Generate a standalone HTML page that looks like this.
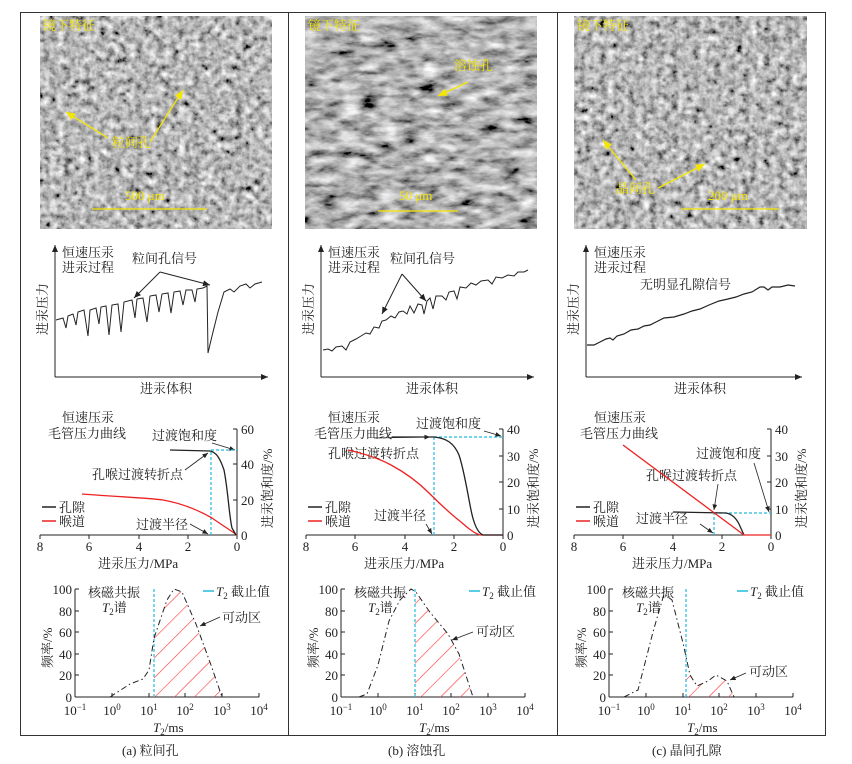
<!DOCTYPE html>
<html><head><meta charset="utf-8"><style>
body{margin:0;background:#fff}
svg{display:block}
text{font-family:"Liberation Serif","Noto Serif CJK SC","Noto Sans CJK SC",serif;fill:#222}
.t13{font-size:13px}
.t12{font-size:13px}
.y{fill:#f5e600;font-size:13px}
</style></head><body>
<svg width="852" height="764" viewBox="0 0 852 764" xmlns="http://www.w3.org/2000/svg">
<defs>
<filter id="n1" x="0" y="0" width="100%" height="100%">
<feTurbulence type="fractalNoise" baseFrequency="0.14" numOctaves="4" seed="3"/>
<feColorMatrix type="matrix" values="0.33 0.33 0.33 0 0  0.33 0.33 0.33 0 0  0.33 0.33 0.33 0 0  0 0 0 0 1"/>
<feComponentTransfer><feFuncR type="linear" slope="2.2" intercept="-0.62"/><feFuncG type="linear" slope="2.2" intercept="-0.62"/><feFuncB type="linear" slope="2.2" intercept="-0.62"/></feComponentTransfer>
</filter>
<filter id="n2" x="0" y="0" width="100%" height="100%">
<feTurbulence type="fractalNoise" baseFrequency="0.05 0.12" numOctaves="4" seed="7"/>
<feColorMatrix type="matrix" values="0.33 0.33 0.33 0 0  0.33 0.33 0.33 0 0  0.33 0.33 0.33 0 0  0 0 0 0 1"/>
<feComponentTransfer><feFuncR type="linear" slope="2.3" intercept="-0.7"/><feFuncG type="linear" slope="2.3" intercept="-0.7"/><feFuncB type="linear" slope="2.3" intercept="-0.7"/></feComponentTransfer>
</filter>
<pattern id="hatch" width="14" height="14" patternUnits="userSpaceOnUse" patternTransform="rotate(45)">
<line x1="0" y1="0" x2="0" y2="14" stroke="#f33" stroke-width="1.2"/>
</pattern>
<marker id="ar" markerWidth="8" markerHeight="8" refX="7" refY="4" orient="auto"><path d="M0,1 L7,4 L0,7 z" fill="#222"/></marker>
<marker id="ay" markerWidth="8" markerHeight="8" refX="7" refY="4" orient="auto"><path d="M0,1 L7,4 L0,7 z" fill="#f5e600"/></marker>
<clipPath id="ca"><polygon points="154,697 154,638 167,600 174,589 182,592 196,624 211,665 222,697"/></clipPath>
<clipPath id="cb"><polygon points="149,697 149,591 150,592 163,611 182,634 193,654 207,697"/></clipPath>
<clipPath id="cc"><polygon points="152,697 152,665 156,675 163,686 174,681 182,675 193,681 200,697"/></clipPath>
</defs>
<rect x="20.5" y="12.5" width="805" height="723" fill="none" stroke="#333" stroke-width="1"/>
<line x1="288.5" y1="12" x2="288.5" y2="735" stroke="#333"/>
<line x1="557.5" y1="12" x2="557.5" y2="735" stroke="#333"/>

<!-- photos -->
<rect x="40" y="16" width="232" height="213" fill="#888" filter="url(#n1)"/>
<rect x="305" y="16" width="232" height="213" fill="#888" filter="url(#n2)"/>
<rect x="574" y="16" width="233" height="213" fill="#888" filter="url(#n1)"/>
<text x="43" y="30" class="y">镜下特征</text>
<text x="308" y="30" class="y">镜下特征</text>
<text x="577" y="30" class="y">镜下特征</text>
<text x="112" y="147" class="y">粒间孔</text>
<line x1="108" y1="138" x2="66" y2="112" stroke="#f5e600" stroke-width="1.3" marker-end="url(#ay)"/>
<line x1="150" y1="142" x2="183" y2="90" stroke="#f5e600" stroke-width="1.3" marker-end="url(#ay)"/>
<text x="125" y="200" class="y">500 μm</text>
<line x1="92" y1="209" x2="207" y2="209" stroke="#f5e600" stroke-width="1.3"/>
<text x="454" y="70" class="y">溶蚀孔</text>
<line x1="468" y1="82" x2="438" y2="96" stroke="#f5e600" stroke-width="1.3" marker-end="url(#ay)"/>
<text x="399" y="200" class="y">50 μm</text>
<line x1="378" y1="211" x2="458" y2="211" stroke="#f5e600" stroke-width="1.3"/>
<text x="616" y="193" class="y">晶间孔</text>
<line x1="636" y1="180" x2="603" y2="140" stroke="#f5e600" stroke-width="1.3" marker-end="url(#ay)"/>
<line x1="658" y1="188" x2="705" y2="164" stroke="#f5e600" stroke-width="1.3" marker-end="url(#ay)"/>
<text x="708" y="200" class="y">200 μm</text>
<line x1="681" y1="209" x2="779" y2="209" stroke="#f5e600" stroke-width="1.3"/>

<!-- ===== panel a ===== -->
<g>
<line x1="55" y1="377" x2="55" y2="245" stroke="#222" marker-end="url(#ar)"/>
<line x1="55" y1="377" x2="268" y2="377" stroke="#222" marker-end="url(#ar)"/>
<text x="62" y="257" class="t13">恒速压汞</text><text x="62" y="272" class="t13">进汞过程</text>
<text x="132" y="263" class="t13">粒间孔信号</text>
<line x1="160" y1="272" x2="134" y2="298" stroke="#222" marker-end="url(#ar)"/>
<line x1="160" y1="272" x2="210" y2="285" stroke="#222" marker-end="url(#ar)"/>
<text class="t13" transform="translate(47,335) rotate(-90)">进汞压力</text>
<text x="140" y="393" class="t13">进汞体积</text>
<polyline fill="none" stroke="#222" stroke-width="1" points="56,320 63,318 66,328 68,316 73,314 76,325 78,312 84,310 88,336 90,310 96,308 99,324 101,307 106,306 109,335 112,305 118,304 121,332 124,302 132,300 135,318 137,299 143,298 147,322 150,296 156,295 159,312 162,294 168,293 171,313 174,292 180,291 183,305 186,290 192,290 195,302 197,289 203,288 207,286 208,353 212,336 218,312 224,292 230,289 234,292 240,286 246,284 250,288 255,284 262,282"/>
<line x1="40" y1="535" x2="237" y2="535" stroke="#222"/>
<line x1="237" y1="535" x2="237" y2="429" stroke="#222"/>
<g stroke="#222"><line x1="40" y1="535" x2="40" y2="539"/><line x1="89" y1="535" x2="89" y2="539"/><line x1="139" y1="535" x2="139" y2="539"/><line x1="188" y1="535" x2="188" y2="539"/><line x1="237" y1="535" x2="237" y2="539"/>
<line x1="237" y1="429" x2="233" y2="429"/><line x1="237" y1="464" x2="233" y2="464"/><line x1="237" y1="500" x2="233" y2="500"/></g>
<g class="t13" text-anchor="middle"><text x="40" y="551">8</text><text x="89" y="551">6</text><text x="139" y="551">4</text><text x="188" y="551">2</text><text x="237" y="551">0</text></g>
<g class="t13"><text x="241" y="434">60</text><text x="241" y="469">40</text><text x="241" y="505">20</text><text x="241" y="540">0</text></g>
<text class="t13" transform="translate(272,528) rotate(-90)">进汞饱和度/%</text>
<text x="98" y="568" class="t13">进汞压力/MPa</text>
<text x="62" y="422" class="t13">恒速压汞</text><text x="48" y="438" class="t13">毛管压力曲线</text>
<text x="152" y="440" class="t13">过渡饱和度</text>
<line x1="212" y1="443" x2="235" y2="450" stroke="#222" stroke-width="0.8" marker-end="url(#ar)"/>
<text x="92" y="479" class="t13">孔喉过渡转折点</text>
<line x1="185" y1="470" x2="208" y2="453" stroke="#222" stroke-width="0.8" marker-end="url(#ar)"/>
<text x="136" y="529" class="t13">过渡半径</text>
<line x1="190" y1="524" x2="208" y2="534" stroke="#222" stroke-width="0.8" marker-end="url(#ar)"/>
<line x1="42" y1="507" x2="56" y2="507" stroke="#222" stroke-width="1.5"/><text x="59" y="512" class="t13">孔隙</text>
<line x1="42" y1="521" x2="56" y2="521" stroke="#e22" stroke-width="1.5"/><text x="59" y="526" class="t13">喉道</text>
<line x1="211" y1="535" x2="211" y2="450" stroke="#2bd" stroke-width="1.2" stroke-dasharray="3,2"/>
<line x1="211" y1="450" x2="237" y2="450" stroke="#2bd" stroke-width="1.2" stroke-dasharray="3,2"/>
<path d="M82,494 C120,497 150,498 163,500 C180,503 198,510 212,518 C222,525 230,530 237,535" fill="none" stroke="#e22" stroke-width="1.3"/>
<path d="M170,450 L210,451 C216,452 220,458 224,470 C228,490 229,515 232,528 L236,535" fill="none" stroke="#222" stroke-width="1.3"/>
<line x1="75" y1="697" x2="259" y2="697" stroke="#222"/>
<line x1="75" y1="697" x2="75" y2="589" stroke="#222"/>
<g stroke="#222"><line x1="75" y1="589" x2="79" y2="589"/><line x1="75" y1="611" x2="79" y2="611"/><line x1="75" y1="632" x2="79" y2="632"/><line x1="75" y1="654" x2="79" y2="654"/><line x1="75" y1="675" x2="79" y2="675"/>
<line x1="112" y1="697" x2="112" y2="693"/><line x1="149" y1="697" x2="149" y2="693"/><line x1="185" y1="697" x2="185" y2="693"/><line x1="222" y1="697" x2="222" y2="693"/><line x1="259" y1="697" x2="259" y2="693"/></g>
<g class="t13" text-anchor="end"><text x="72" y="594">100</text><text x="72" y="616">80</text><text x="72" y="637">60</text><text x="72" y="659">40</text><text x="72" y="680">20</text><text x="72" y="702">0</text></g>
<g class="t13" text-anchor="middle"><text x="75" y="715">10<tspan font-size="9" dy="-5">−1</tspan></text><text x="112" y="715">10<tspan font-size="9" dy="-5">0</tspan></text><text x="149" y="715">10<tspan font-size="9" dy="-5">1</tspan></text><text x="185" y="715">10<tspan font-size="9" dy="-5">2</tspan></text><text x="222" y="715">10<tspan font-size="9" dy="-5">3</tspan></text><text x="259" y="715">10<tspan font-size="9" dy="-5">4</tspan></text></g>
<text x="153" y="732" class="t13"><tspan font-style="italic">T</tspan><tspan font-size="9" dy="3">2</tspan><tspan dy="-3">/ms</tspan></text>
<text class="t13" transform="translate(52,668) rotate(-90)">频率/%</text>
<text x="88" y="597" class="t13">核磁共振</text><text x="102" y="612" class="t13"><tspan font-style="italic">T</tspan><tspan font-size="9" dy="3">2</tspan><tspan dy="-3">谱</tspan></text>
<line x1="203" y1="591" x2="214" y2="591" stroke="#2bd" stroke-width="1.5"/><text x="216" y="596" class="t13"><tspan font-style="italic">T</tspan><tspan font-size="9" dy="3">2</tspan><tspan dy="-3"> 截止值</tspan></text>
<text x="222" y="622" class="t13">可动区</text>
<line x1="220" y1="617" x2="200" y2="626" stroke="#222" stroke-width="0.8" marker-end="url(#ar)"/>
<rect x="150" y="585" width="80" height="115" fill="url(#hatch)" clip-path="url(#ca)"/>
<line x1="154" y1="697" x2="154" y2="589" stroke="#2bd" stroke-width="1.2" stroke-dasharray="3,2"/>
<polyline fill="none" stroke="#222" stroke-width="1" stroke-dasharray="6,3,1.5,3" points="110,697 130,684 143,679 149,670 154,638 167,600 174,589 182,592 196,624 211,665 222,697"/>
<text x="122" y="755" class="t12">(a) 粒间孔</text>
</g>

<!-- ===== panel b ===== -->
<g transform="translate(266,0)">
<line x1="55" y1="377" x2="55" y2="245" stroke="#222" marker-end="url(#ar)"/>
<line x1="55" y1="377" x2="268" y2="377" stroke="#222" marker-end="url(#ar)"/>
<text x="62" y="257" class="t13">恒速压汞</text><text x="62" y="272" class="t13">进汞过程</text>
<text x="124" y="263" class="t13">粒间孔信号</text>
<line x1="136" y1="274" x2="116" y2="314" stroke="#222" marker-end="url(#ar)"/>
<line x1="136" y1="274" x2="160" y2="301" stroke="#222" marker-end="url(#ar)"/>
<text class="t13" transform="translate(47,335) rotate(-90)">进汞压力</text>
<text x="140" y="393" class="t13">进汞体积</text>
<polyline fill="none" stroke="#222" stroke-width="1" points="57,350 62,349 66,351 70,347 76,346 80,350 84,342 90,339 95,336 100,333 104,334 108,327 113,328 116,321 120,320 125,316 129,318 133,312 137,311 141,314 144,306 148,313 152,304 156,305 158,314 161,301 164,298 167,309 170,296 176,296 180,300 183,292 188,291 191,299 194,287 200,288 205,283 210,285 215,281 222,280 226,284 230,277 236,278 242,275 248,276 252,272 258,272 262,270"/>
<line x1="40" y1="535" x2="237" y2="535" stroke="#222"/>
<line x1="237" y1="535" x2="237" y2="429" stroke="#222"/>
<g stroke="#222"><line x1="40" y1="535" x2="40" y2="539"/><line x1="89" y1="535" x2="89" y2="539"/><line x1="139" y1="535" x2="139" y2="539"/><line x1="188" y1="535" x2="188" y2="539"/><line x1="237" y1="535" x2="237" y2="539"/>
<line x1="237" y1="429" x2="233" y2="429"/><line x1="237" y1="456" x2="233" y2="456"/><line x1="237" y1="482" x2="233" y2="482"/><line x1="237" y1="509" x2="233" y2="509"/></g>
<g class="t13" text-anchor="middle"><text x="40" y="551">8</text><text x="89" y="551">6</text><text x="139" y="551">4</text><text x="188" y="551">2</text><text x="237" y="551">0</text></g>
<g class="t13"><text x="241" y="434">40</text><text x="241" y="461">30</text><text x="241" y="487">20</text><text x="241" y="514">10</text><text x="241" y="540">0</text></g>
<text class="t13" transform="translate(272,528) rotate(-90)">进汞饱和度/%</text>
<text x="98" y="568" class="t13">进汞压力/MPa</text>
<text x="62" y="422" class="t13">恒速压汞</text><text x="48" y="438" class="t13">毛管压力曲线</text>
<text x="150" y="428" class="t13">过渡饱和度</text>
<line x1="218" y1="431" x2="235" y2="436" stroke="#222" stroke-width="0.8" marker-end="url(#ar)"/>
<line x1="108" y1="438" x2="164" y2="437" stroke="#222" stroke-width="0.8" marker-end="url(#ar)"/>
<text x="62" y="458" class="t13">孔喉过渡转折点</text>
<text x="108" y="520" class="t13">过渡半径</text>
<line x1="160" y1="524" x2="166" y2="534" stroke="#222" stroke-width="0.8" marker-end="url(#ar)"/>
<line x1="42" y1="507" x2="56" y2="507" stroke="#222" stroke-width="1.5"/><text x="59" y="512" class="t13">孔隙</text>
<line x1="42" y1="521" x2="56" y2="521" stroke="#e22" stroke-width="1.5"/><text x="59" y="526" class="t13">喉道</text>
<line x1="168" y1="535" x2="168" y2="437" stroke="#2bd" stroke-width="1.2" stroke-dasharray="3,2"/>
<line x1="168" y1="437" x2="237" y2="437" stroke="#2bd" stroke-width="1.2" stroke-dasharray="3,2"/>
<path d="M82,450 C100,454 114,459 125,465 C140,473 152,482 163,493 C175,505 186,515 195,522 C203,529 208,533 214,535 L237,535" fill="none" stroke="#e22" stroke-width="1.3"/>
<path d="M126,437 L168,437 C180,438 188,443 193,455 C198,470 201,490 205,510 C208,525 212,533 217,535 L237,535" fill="none" stroke="#222" stroke-width="1.3"/>
<line x1="75" y1="697" x2="259" y2="697" stroke="#222"/>
<line x1="75" y1="697" x2="75" y2="589" stroke="#222"/>
<g stroke="#222"><line x1="75" y1="589" x2="79" y2="589"/><line x1="75" y1="611" x2="79" y2="611"/><line x1="75" y1="632" x2="79" y2="632"/><line x1="75" y1="654" x2="79" y2="654"/><line x1="75" y1="675" x2="79" y2="675"/>
<line x1="112" y1="697" x2="112" y2="693"/><line x1="149" y1="697" x2="149" y2="693"/><line x1="185" y1="697" x2="185" y2="693"/><line x1="222" y1="697" x2="222" y2="693"/><line x1="259" y1="697" x2="259" y2="693"/></g>
<g class="t13" text-anchor="end"><text x="72" y="594">100</text><text x="72" y="616">80</text><text x="72" y="637">60</text><text x="72" y="659">40</text><text x="72" y="680">20</text><text x="72" y="702">0</text></g>
<g class="t13" text-anchor="middle"><text x="75" y="715">10<tspan font-size="9" dy="-5">−1</tspan></text><text x="112" y="715">10<tspan font-size="9" dy="-5">0</tspan></text><text x="149" y="715">10<tspan font-size="9" dy="-5">1</tspan></text><text x="185" y="715">10<tspan font-size="9" dy="-5">2</tspan></text><text x="222" y="715">10<tspan font-size="9" dy="-5">3</tspan></text><text x="259" y="715">10<tspan font-size="9" dy="-5">4</tspan></text></g>
<text x="153" y="732" class="t13"><tspan font-style="italic">T</tspan><tspan font-size="9" dy="3">2</tspan><tspan dy="-3">/ms</tspan></text>
<text class="t13" transform="translate(52,668) rotate(-90)">频率/%</text>
<text x="88" y="597" class="t13">核磁共振</text><text x="102" y="612" class="t13"><tspan font-style="italic">T</tspan><tspan font-size="9" dy="3">2</tspan><tspan dy="-3">谱</tspan></text>
<line x1="203" y1="591" x2="214" y2="591" stroke="#2bd" stroke-width="1.5"/><text x="216" y="596" class="t13"><tspan font-style="italic">T</tspan><tspan font-size="9" dy="3">2</tspan><tspan dy="-3"> 截止值</tspan></text>
<text x="210" y="636" class="t13">可动区</text>
<line x1="207" y1="632" x2="186" y2="640" stroke="#222" stroke-width="0.8" marker-end="url(#ar)"/>
<rect x="145" y="585" width="80" height="115" fill="url(#hatch)" clip-path="url(#cb)"/>
<line x1="149" y1="697" x2="149" y2="589" stroke="#2bd" stroke-width="1.2" stroke-dasharray="3,2"/>
<polyline fill="none" stroke="#222" stroke-width="1" stroke-dasharray="6,3,1.5,3" points="93,697 101,694 112,665 123,621 134,600 145,589 150,592 163,611 182,634 193,654 207,697"/>
<text x="122" y="755" class="t12">(b) 溶蚀孔</text>
</g>

<!-- ===== panel c ===== -->
<g transform="translate(534,0)">
<line x1="52" y1="377" x2="52" y2="245" stroke="#222" marker-end="url(#ar)"/>
<line x1="52" y1="377" x2="268" y2="377" stroke="#222" marker-end="url(#ar)"/>
<text x="60" y="257" class="t13">恒速压汞</text><text x="60" y="272" class="t13">进汞过程</text>
<text x="106" y="289" class="t13">无明显孔隙信号</text>
<text class="t13" transform="translate(44,335) rotate(-90)">进汞压力</text>
<text x="140" y="393" class="t13">进汞体积</text>
<polyline fill="none" stroke="#222" stroke-width="1.2" points="53,345 60,345 66,342 72,339 76,338 79,340 83,336 90,334 97,330 104,329 110,326 116,325 122,322 130,318 140,317 150,314 158,311 166,309 175,305 185,301 194,299 202,297 210,294 218,292 226,287 230,287 234,290 238,287 246,287 254,285 261,286"/>
<line x1="40" y1="535" x2="237" y2="535" stroke="#222"/>
<line x1="237" y1="535" x2="237" y2="429" stroke="#222"/>
<g stroke="#222"><line x1="40" y1="535" x2="40" y2="539"/><line x1="89" y1="535" x2="89" y2="539"/><line x1="139" y1="535" x2="139" y2="539"/><line x1="188" y1="535" x2="188" y2="539"/><line x1="237" y1="535" x2="237" y2="539"/>
<line x1="237" y1="429" x2="233" y2="429"/><line x1="237" y1="456" x2="233" y2="456"/><line x1="237" y1="482" x2="233" y2="482"/><line x1="237" y1="509" x2="233" y2="509"/></g>
<g class="t13" text-anchor="middle"><text x="40" y="551">8</text><text x="89" y="551">6</text><text x="139" y="551">4</text><text x="188" y="551">2</text><text x="237" y="551">0</text></g>
<g class="t13"><text x="241" y="434">40</text><text x="241" y="461">30</text><text x="241" y="487">20</text><text x="241" y="514">10</text><text x="241" y="540">0</text></g>
<text class="t13" transform="translate(272,528) rotate(-90)">进汞饱和度/%</text>
<text x="98" y="568" class="t13">进汞压力/MPa</text>
<text x="60" y="422" class="t13">恒速压汞</text><text x="46" y="438" class="t13">毛管压力曲线</text>
<text x="162" y="458" class="t13">过渡饱和度</text>
<line x1="220" y1="463" x2="235" y2="512" stroke="#222" stroke-width="0.8" marker-end="url(#ar)"/>
<text x="112" y="480" class="t13">孔喉过渡转折点</text>
<line x1="184" y1="484" x2="180" y2="510" stroke="#222" stroke-width="0.8" marker-end="url(#ar)"/>
<text x="102" y="523" class="t13">过渡半径</text>
<line x1="166" y1="524" x2="179" y2="533" stroke="#222" stroke-width="0.8" marker-end="url(#ar)"/>
<line x1="42" y1="507" x2="56" y2="507" stroke="#222" stroke-width="1.5"/><text x="59" y="512" class="t13">孔隙</text>
<line x1="42" y1="521" x2="56" y2="521" stroke="#e22" stroke-width="1.5"/><text x="59" y="526" class="t13">喉道</text>
<line x1="180" y1="535" x2="180" y2="513" stroke="#2bd" stroke-width="1.2" stroke-dasharray="3,2"/>
<line x1="180" y1="513" x2="237" y2="513" stroke="#2bd" stroke-width="1.2" stroke-dasharray="3,2"/>
<path d="M139,512 L192,513 C198,514 202,518 205,524 L210,535" fill="none" stroke="#222" stroke-width="1.3"/>
<path d="M89,445 L210,535 L237,535" fill="none" stroke="#e22" stroke-width="1.3"/>
<line x1="75" y1="697" x2="259" y2="697" stroke="#222"/>
<line x1="75" y1="697" x2="75" y2="589" stroke="#222"/>
<g stroke="#222"><line x1="75" y1="589" x2="79" y2="589"/><line x1="75" y1="611" x2="79" y2="611"/><line x1="75" y1="632" x2="79" y2="632"/><line x1="75" y1="654" x2="79" y2="654"/><line x1="75" y1="675" x2="79" y2="675"/>
<line x1="112" y1="697" x2="112" y2="693"/><line x1="149" y1="697" x2="149" y2="693"/><line x1="185" y1="697" x2="185" y2="693"/><line x1="222" y1="697" x2="222" y2="693"/><line x1="259" y1="697" x2="259" y2="693"/></g>
<g class="t13" text-anchor="end"><text x="72" y="594">100</text><text x="72" y="616">80</text><text x="72" y="637">60</text><text x="72" y="659">40</text><text x="72" y="680">20</text><text x="72" y="702">0</text></g>
<g class="t13" text-anchor="middle"><text x="75" y="715">10<tspan font-size="9" dy="-5">−1</tspan></text><text x="112" y="715">10<tspan font-size="9" dy="-5">0</tspan></text><text x="149" y="715">10<tspan font-size="9" dy="-5">1</tspan></text><text x="185" y="715">10<tspan font-size="9" dy="-5">2</tspan></text><text x="222" y="715">10<tspan font-size="9" dy="-5">3</tspan></text><text x="259" y="715">10<tspan font-size="9" dy="-5">4</tspan></text></g>
<text x="153" y="732" class="t13"><tspan font-style="italic">T</tspan><tspan font-size="9" dy="3">2</tspan><tspan dy="-3">/ms</tspan></text>
<text class="t13" transform="translate(52,668) rotate(-90)">频率/%</text>
<text x="88" y="597" class="t13">核磁共振</text><text x="102" y="612" class="t13"><tspan font-style="italic">T</tspan><tspan font-size="9" dy="3">2</tspan><tspan dy="-3">谱</tspan></text>
<line x1="203" y1="591" x2="214" y2="591" stroke="#2bd" stroke-width="1.5"/><text x="216" y="596" class="t13"><tspan font-style="italic">T</tspan><tspan font-size="9" dy="3">2</tspan><tspan dy="-3"> 截止值</tspan></text>
<text x="215" y="676" class="t13">可动区</text>
<line x1="212" y1="673" x2="196" y2="680" stroke="#222" stroke-width="0.8" marker-end="url(#ar)"/>
<rect x="148" y="650" width="60" height="50" fill="url(#hatch)" clip-path="url(#cc)"/>
<line x1="152" y1="697" x2="152" y2="589" stroke="#2bd" stroke-width="1.2" stroke-dasharray="3,2"/>
<polyline fill="none" stroke="#222" stroke-width="1" stroke-dasharray="6,3,1.5,3" points="90,697 104,690 119,632 130,594 138,600 149,643 156,675 163,686 174,681 182,675 193,681 200,697 259,697"/>
<text x="118" y="755" class="t12">(c) 晶间孔隙</text>
</g>
</svg>
</body></html>
